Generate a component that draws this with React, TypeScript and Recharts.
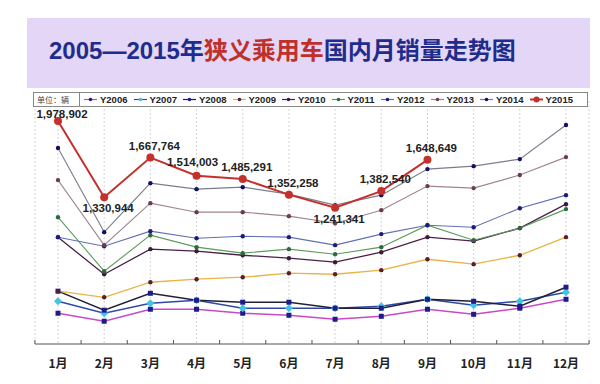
import React from "react";
import {
  LineChart,
  Line,
  XAxis,
  YAxis,
  CartesianGrid,
  LabelList,
} from "recharts";

//data
const months = ["1月", "2月", "3月", "4月", "5月", "6月", "7月", "8月", "9月", "10月", "11月", "12月"];

const y2006 = [342000, 274000, 376000, 376000, 342000, 325000, 291000, 316000, 376000, 333000, 385000, 461000];
const y2007 = [444000, 342000, 427000, 453000, 385000, 385000, 385000, 402000, 461000, 410000, 444000, 521000];
const y2008 = [530000, 368000, 512000, 453000, 436000, 436000, 385000, 385000, 461000, 444000, 402000, 564000];
const y2009 = [530000, 478000, 606000, 632000, 649000, 683000, 674000, 709000, 802000, 760000, 836000, 990000];
const y2010 = [990000, 674000, 888000, 871000, 836000, 811000, 777000, 862000, 990000, 956000, 1067000, 1271000];
const y2011 = [1160000, 700000, 1007000, 905000, 854000, 888000, 845000, 905000, 1092000, 964000, 1067000, 1229000];
const y2012 = [990000, 913000, 1041000, 981000, 998000, 990000, 922000, 1016000, 1092000, 1075000, 1237000, 1348000];
const y2013 = [1476000, 922000, 1280000, 1203000, 1203000, 1169000, 1109000, 1220000, 1425000, 1408000, 1519000, 1672000];
const y2014 = [1749000, 1033000, 1450000, 1399000, 1416000, 1357000, 1263000, 1348000, 1570000, 1595000, 1655000, 1945000];
const y2015 = [1978902, 1330944, 1667764, 1514003, 1485291, 1352258, 1241341, 1382540, 1648649, null, null, null];

const seriesNames = ["Y2006", "Y2007", "Y2008", "Y2009", "Y2010", "Y2011", "Y2012", "Y2013", "Y2014", "Y2015"];
const seriesValues = [y2006, y2007, y2008, y2009, y2010, y2011, y2012, y2013, y2014, y2015];

//styles
const lineColors = ["#c84ac8", "#3048a8", "#202038", "#e8b444", "#4a2048", "#5c9c5c", "#6070b4", "#a08494", "#7c7c8c", "#c4302c"];
const dotColors = ["#1c1c8c", "#40c4e4", "#1c1c8c", "#5c1c2c", "#3c1c3c", "#2c6c3c", "#1c1c7c", "#6c3c4c", "#10106c", "#c4302c"];
const dotShapes = ["square", "diamond", "square", "circle", "circle", "circle", "circle", "circle", "circle", "circle"];
const lineWidths = [1.5, 1.5, 1.5, 1.3, 1.3, 1.1, 1.1, 1.1, 1.1, 2];

const data = months.map((m, i) => {
  const row: Record<string, any> = { month: m };
  seriesNames.forEach((s, k) => {
    row[s] = seriesValues[k][i];
  });
  return row;
});

const renderDot = (p: any, k: number) => {
  const { cx, cy, index } = p;
  if (cx == null || cy == null || p.value == null) return <g key={index} />;
  const c = dotColors[k];
  const shape = dotShapes[k];
  if (shape === "square")
    return <rect key={index} x={cx - 2.5} y={cy - 2.5} width={5} height={5} fill={c} />;
  if (shape === "diamond")
    return (
      <polygon
        key={index}
        points={`${cx},${cy - 4} ${cx + 4},${cy} ${cx},${cy + 4} ${cx - 4},${cy}`}
        fill={c}
      />
    );
  const r = k === 9 ? 4 : 2.2;
  return <circle key={index} cx={cx} cy={cy} r={r} fill={c} />;
};

// labels for 2015: under the point at local lows, above it otherwise
const renderLabel = (p: any) => {
  const { x, y, value, index } = p;
  if (value == null) return null;
  const prev = y2015[index - 1];
  const next = y2015[index + 1];
  const below = prev != null && next != null && value < prev && value < next;
  // next label almost level -> nudge this one left so they don't collide
  const crowded = next != null && !below && Math.abs(next - value) / value < 0.03;
  const ty = below ? y + 15 : Math.max(y - 8, 118);
  return (
    <text
      x={x + (crowded ? -4 : 4)}
      y={crowded ? ty - 2 : ty}
      textAnchor="middle"
      fontFamily="Liberation Sans"
      fontWeight="bold"
      fontSize={11.5}
      fill="#222"
    >
      {value.toLocaleString("en-US")}
    </text>
  );
};

const MonthTick = (p: any) => {
  const { x, y, payload, index } = p;
  const axisY = y - 8;
  const half = 23.1;
  return (
    <g>
      <line x1={x - half} x2={x - half} y1={axisY - 4} y2={axisY} stroke="#555" />
      {index === months.length - 1 && (
        <line x1={x + half} x2={x + half} y1={axisY - 4} y2={axisY} stroke="#555" />
      )}
      <text
        x={x}
        y={y}
        dy={16}
        textAnchor="middle"
        fontFamily="Noto Sans CJK SC"
        fontWeight="bold"
        fontSize={12}
        fill="#222"
      >
        {payload.value}
      </text>
    </g>
  );
};

const LegendBox = () => (
  <div
    style={{
      position: "absolute",
      left: 33,
      top: 92,
      width: 555,
      height: 15,
      boxSizing: "border-box",
      border: "1px solid #888",
      background: "#fff",
      display: "flex",
      alignItems: "center",
      fontFamily: "Liberation Sans",
      fontWeight: "bold",
      fontSize: 9.5,
      color: "#222",
    }}
  >
    <div
      style={{
        width: 46,
        height: 13,
        boxSizing: "border-box",
        borderRight: "1px solid #888",
        fontFamily: "Noto Sans CJK SC",
        fontSize: 8,
        fontWeight: "normal",
        lineHeight: "13px",
        paddingLeft: 3,
        color: "#444",
      }}
    >
      单位：辆
    </div>
    {seriesNames.map((s, k) => (
      <div key={s} style={{ width: 49.5, display: "flex", alignItems: "center", marginLeft: k === 0 ? 3 : 0 }}>
        <svg width={15} height={9}>
          <line x1={1} x2={14} y1={4.5} y2={4.5} stroke={lineColors[k]} strokeWidth={k === 9 ? 2 : 1.2} />
          <circle cx={7.5} cy={4.5} r={k === 9 ? 3 : 1.8} fill={dotColors[k]} />
        </svg>
        <span style={{ marginLeft: 2 }}>{s}</span>
      </div>
    ))}
  </div>
);

const App = () => {
  return (
    <div style={{ position: "fixed", left: 0, top: 0, width: 600, height: 384, background: "#fff" }}>
      <div
        style={{
          position: "absolute",
          left: 27,
          top: 18,
          width: 563,
          height: 70,
          background: "#e4d6f6",
          boxSizing: "border-box",
          paddingLeft: 22,
          lineHeight: "66px",
          fontFamily: "Liberation Sans, Noto Sans CJK SC",
          fontWeight: "bold",
          fontSize: 24,
          color: "#1e2c8c",
          whiteSpace: "nowrap",
        }}
      >
        2005—2015年<span style={{ color: "#c0302a" }}>狭义乘用车</span>国内月销量走势图
      </div>
      <LineChart
        width={600}
        height={384}
        data={data}
        margin={{ top: 101, right: 11, left: 35, bottom: 10 }}
        style={{ position: "absolute", left: 0, top: 0 }}
      >
        <CartesianGrid horizontal={false} stroke="#d4d4d4" strokeDasharray="2 2" />
        <XAxis
          dataKey="month"
          height={30}
          padding={{ left: 23, right: 23 }}
          axisLine={{ stroke: "#555" }}
          tickLine={false}
          tick={<MonthTick />}
          interval={0}
        />
        <YAxis hide domain={[80000, 2150000]} allowDataOverflow />
        {seriesNames.map((s, k) => (
          <Line
            key={s}
            dataKey={s}
            type="linear"
            stroke={lineColors[k]}
            strokeWidth={lineWidths[k]}
            dot={(p: any) => renderDot(p, k)}
            activeDot={false}
            isAnimationActive={false}
          >
            {k === 9 && <LabelList dataKey={s} content={renderLabel} />}
          </Line>
        ))}
      </LineChart>
      <LegendBox />
    </div>
  );
};

export default App;
